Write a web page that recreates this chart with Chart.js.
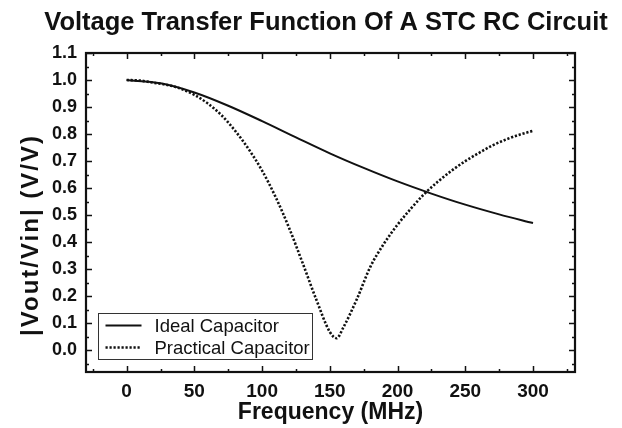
<!DOCTYPE html>
<html>
<head>
<meta charset="utf-8">
<script src="https://cdn.jsdelivr.net/npm/chart.js@4.4.1/dist/chart.umd.min.js"></script>
<style>
body{margin:0;background:#fff}
#wrap{width:622px;height:428px;position:relative}
</style>
</head>
<body>
<div id="wrap"><canvas id="stcChart"></canvas></div>
<script>
// values
const idealFreq = [0, 25, 50, 75, 100, 125, 150, 175, 200, 225, 250, 275, 300]
const idealGain = [1.0, 0.988, 0.954, 0.905, 0.848, 0.788, 0.729, 0.675, 0.625, 0.58, 0.539, 0.503, 0.471]

const practicalFreq = [0, 10, 20, 30, 40, 50, 60, 70, 80, 90, 100, 110, 120, 130, 140, 150, 155, 160, 170, 180, 190, 200, 210, 220, 230, 240, 250, 260, 270, 280, 290, 300]
const practicalGain = [1.0, 0.998, 0.99, 0.982, 0.968, 0.945, 0.913, 0.87, 0.813, 0.745, 0.665, 0.567, 0.452, 0.322, 0.188, 0.068, 0.045, 0.085, 0.19, 0.31, 0.395, 0.465, 0.525, 0.58, 0.625, 0.665, 0.7, 0.73, 0.758, 0.78, 0.798, 0.812]

const xTicks = [0, 50, 100, 150, 200, 250, 300]
const xMinor = [-25, 25, 75, 125, 175, 225, 275, 325]
const yTicks = [0, 0.1, 0.2, 0.3, 0.4, 0.5, 0.6, 0.7, 0.8, 0.9, 1.0, 1.1]
const yMinor = [-0.05, 0.05, 0.15, 0.25, 0.35, 0.45, 0.55, 0.65, 0.75, 0.85, 0.95, 1.05]

const seriesNames = ["Ideal Capacitor", "Practical Capacitor"]
const chartTitle = "Voltage Transfer Function Of A STC RC Circuit"
const yTitle = "|Vout/Vin| (V/V)"

const FONT = "'Liberation Sans', Arial, sans-serif"
const INK = "#111"

function toPoints(xs, ys){
  return xs.map((x, i) => ({x: x, y: ys[i]}))
}

// frame with inward ticks on all four sides, titles, boxed legend
const framePlugin = {
  id: "frame",
  afterDatasetsDraw(chart){
    const ctx = chart.ctx
    const a = chart.chartArea
    const xs = chart.scales.x
    const ys = chart.scales.y
    ctx.save()
    ctx.strokeStyle = INK
    ctx.lineWidth = 1.5
    ctx.beginPath()
    xTicks.forEach(v => {
      const p = Math.round(xs.getPixelForValue(v)) + 0.5
      ctx.moveTo(p, a.bottom); ctx.lineTo(p, a.bottom - 6)
      ctx.moveTo(p, a.top); ctx.lineTo(p, a.top + 6)
    })
    xMinor.forEach(v => {
      const p = Math.round(xs.getPixelForValue(v)) + 0.5
      if (p <= a.left || p >= a.right) return
      ctx.moveTo(p, a.bottom); ctx.lineTo(p, a.bottom - 3)
      ctx.moveTo(p, a.top); ctx.lineTo(p, a.top + 3)
    })
    yTicks.forEach(v => {
      const p = Math.round(ys.getPixelForValue(v)) + 0.5
      ctx.moveTo(a.left, p); ctx.lineTo(a.left + 6, p)
      ctx.moveTo(a.right, p); ctx.lineTo(a.right - 6, p)
    })
    yMinor.forEach(v => {
      const p = Math.round(ys.getPixelForValue(v)) + 0.5
      if (p <= a.top || p >= a.bottom) return
      ctx.moveTo(a.left, p); ctx.lineTo(a.left + 3, p)
      ctx.moveTo(a.right, p); ctx.lineTo(a.right - 3, p)
    })
    ctx.stroke()

    ctx.lineWidth = 2.2
    ctx.strokeRect(a.left, a.top, a.right - a.left, a.bottom - a.top)

    // chart title
    ctx.fillStyle = INK
    ctx.font = "bold 25.5px " + FONT
    ctx.textAlign = "center"
    ctx.textBaseline = "middle"
    ctx.fillText(chartTitle, 326, 23)

    // y axis title
    ctx.save()
    ctx.translate(31, 235)
    ctx.rotate(-Math.PI / 2)
    ctx.fillStyle = INK
    ctx.font = "bold 24px " + FONT
    ctx.letterSpacing = "2px"
    ctx.textAlign = "center"
    ctx.textBaseline = "middle"
    ctx.fillText(yTitle, 0, 0)
    ctx.restore()

    // legend
    const lx = a.left + 12.5, ly = a.bottom - 58.5
    const lw = 214, lh = 46
    ctx.fillStyle = "#fff"
    ctx.fillRect(lx, ly, lw, lh)
    ctx.strokeStyle = "#333"
    ctx.lineWidth = 1
    ctx.strokeRect(lx, ly, lw, lh)
    chart.data.datasets.forEach((ds, i) => {
      const rowY = ly + 12 + i * 22
      ctx.save()
      ctx.strokeStyle = ds.borderColor
      ctx.lineWidth = ds.borderWidth
      ctx.setLineDash(ds.borderDash || [])
      ctx.beginPath()
      ctx.moveTo(lx + 7, rowY)
      ctx.lineTo(lx + 43, rowY)
      ctx.stroke()
      ctx.restore()
      ctx.fillStyle = INK
      ctx.font = "18.5px " + FONT
      ctx.textAlign = "left"
      ctx.textBaseline = "middle"
      ctx.fillText(ds.label, lx + 56, rowY + 1)
    })
    ctx.restore()
  }
}

const chart = new Chart(document.getElementById("stcChart"), {
  type: "line",
  data: {
    datasets: [
      {
        label: seriesNames[0],
        data: toPoints(idealFreq, idealGain),
        borderColor: "#111",
        borderWidth: 2,
        pointRadius: 0,
        cubicInterpolationMode: "monotone",
        fill: false
      },
      {
        label: seriesNames[1],
        data: toPoints(practicalFreq, practicalGain),
        borderColor: "#111",
        borderWidth: 2.6,
        borderDash: [2.2, 1.8],
        pointRadius: 0,
        cubicInterpolationMode: "monotone",
        fill: false
      }
    ]
  },
  options: {
    responsive: true,
    maintainAspectRatio: false,
    animation: false,
    layout: {padding: {top: 53, right: 47, bottom: 0, left: 0}},
    plugins: {
      legend: {display: false},
      tooltip: {enabled: false},
      title: {display: false}
    },
    scales: {
      x: {
        type: "linear",
        min: -30,
        max: 331,
        grid: {display: false, drawTicks: false},
        border: {display: false},
        afterBuildTicks: s => { s.ticks = xTicks.map(v => ({value: v})) },
        afterFit: s => { s.height = 56 },
        ticks: {
          color: INK,
          padding: 8,
          font: {family: FONT, size: 19, weight: "bold"},
          callback: v => String(v)
        },
        title: {
          display: true,
          text: "Frequency (MHz)",
          color: INK,
          font: {family: FONT, size: 23, weight: "bold"},
          padding: {top: 0, bottom: 2}
        }
      },
      y: {
        type: "linear",
        min: -0.08,
        max: 1.1,
        grid: {display: false, drawTicks: false},
        border: {display: false},
        afterBuildTicks: s => { s.ticks = yTicks.map(v => ({value: v})) },
        afterFit: s => { s.width = 86 },
        ticks: {
          color: INK,
          padding: 9,
          font: {family: FONT, size: 18, weight: "bold"},
          callback: v => Number(v).toFixed(1)
        }
      }
    }
  },
  plugins: [framePlugin]
})
</script>
</body>
</html>
